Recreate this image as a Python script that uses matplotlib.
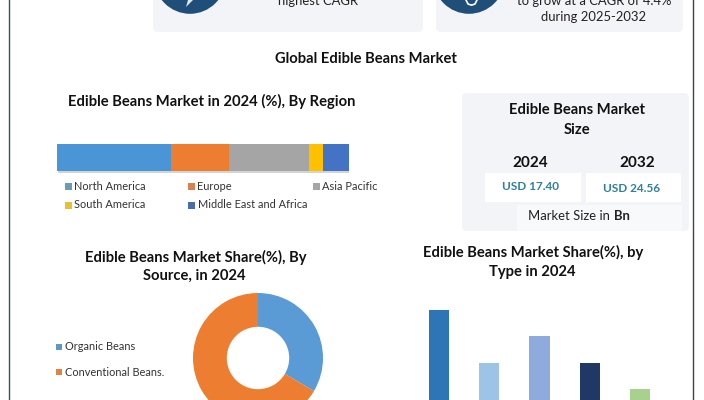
import numpy as np
import matplotlib
matplotlib.use('Agg')
import matplotlib.pyplot as plt
from matplotlib.patches import FancyBboxPatch, Circle, Rectangle, Polygon

plt.rcParams['font.family'] = ['Lato', 'DejaVu Sans']

region_names = ['North America', 'Europe', 'Asia Pacific', 'South America', 'Middle East and Africa']
region_values = [39, 20, 27.4, 4.8, 8.8]
region_colors = ['#4a95d6', '#ed7d31', '#a5a5a5', '#ffc000', '#4472c4']

source_names = ['Organic Beans', 'Conventional Beans.']
source_values = [33.5, 66.5]
source_colors = ['#5b9bd5', '#ed7d31']

type_values = [90, 37, 64, 37, 11]
type_colors = ['#2e75b6', '#9dc3e6', '#8faadc', '#1f3864', '#a9d18e']

size_years = ['2024', '2032']
size_values = ['USD 17.40', 'USD 24.56']

W, H = 704, 400
TITLE = 10.65
BODY = 9.4
fig = plt.figure(figsize=(W / 100, H / 100), dpi=100)

# pixel-space canvas for panels and text
bg = fig.add_axes([0, 0, 1, 1])
bg.set_xlim(0, W)
bg.set_ylim(H, 0)
bg.axis('off')


def card(x0, y0, x1, y1, color='#f3f4f7', z=1):
    bg.add_patch(FancyBboxPatch((x0 + 4, y0 + 4), x1 - x0 - 8, y1 - y0 - 8,
                                boxstyle='round,pad=4,rounding_size=5',
                                fc=color, ec='none', zorder=z))


def title(x, y, s):
    bg.text(x, y, s, ha='center', va='center', fontsize=TITLE, fontweight='bold',
            color='#111111', zorder=3)


# outer frame
bg.plot([9, 9], [0, H], color='#2f5270', lw=1)
bg.plot([693, 693], [0, H], color='#3a4750', lw=1)

# top highlight cards
card(153, -10, 423, 32)
card(436, -10, 683, 32)
bg.add_patch(Circle((190, -22), 35.8, fc='#1f4e79', ec='none', zorder=2))
bg.add_patch(Circle((469, -22), 35.8, fc='#1f4e79', ec='none', zorder=2))
bg.add_patch(Polygon([(188, 0), (193, 0), (186, 7)], fc='#dfe8ee', ec='none', zorder=3))
bg.plot([466, 468, 471], [0, 4, 5], color='white', lw=1.2, zorder=3)
bg.plot([477, 475, 472], [0, 4, 5], color='white', lw=1.2, zorder=3)
bg.text(318, 1, 'highest CAGR', ha='center', va='center', fontsize=BODY, color='#222222', zorder=3)
bg.text(594, 1, 'to grow at a CAGR of 4.4%', ha='center', va='center', fontsize=BODY, color='#222222', zorder=3)
bg.text(594, 17, 'during 2025-2032', ha='center', va='center', fontsize=BODY, color='#222222', zorder=3)

title(366, 59, 'Global Edible Beans Market')

# stacked region bar
title(212, 101, 'Edible Beans Market in 2024 (%), By Region')
bg.add_patch(Rectangle((58, 171), 291, 2, fc='#d4d4d4', ec='none', zorder=1))
bar_ax = fig.add_axes([57 / W, 1 - 171 / H, 292 / W, 27 / H])
left = 0
for val, col in zip(region_values, region_colors):
    bar_ax.barh(0, val, left=left, height=1, color=col)
    left += val
bar_ax.set_xlim(0, sum(region_values))
bar_ax.set_ylim(-0.5, 0.5)
bar_ax.axis('off')

legend_pos = [(65, 186), (188, 186), (313, 186), (65, 205), (188, 205)]
legend_cols = ['#6c9bb5', '#d9824e', '#a5a5a5', '#eac02f', '#4a6ea9']
for name, col, (lx, ly) in zip(region_names, legend_cols, legend_pos):
    bg.add_patch(Rectangle((lx, ly - 3), 6.5, 6.5, fc=col, ec='none'))
    bg.text(lx + 9.5, ly, name, ha='left', va='center', fontsize=7.9, color='#333333')

# market size panel
card(462, 93, 689, 231)
title(577, 110, 'Edible Beans Market')
title(577, 130, 'Size')
bg.add_patch(Rectangle((485, 173), 96, 29, fc='white', ec='none', zorder=2))
bg.add_patch(Rectangle((586, 173), 95, 29, fc='white', ec='none', zorder=2))
bg.add_patch(Rectangle((517, 205), 165, 26, fc='#f8f9fb', ec='none', zorder=2))
for yx, vx, vy, year, val in zip([530, 637], [530, 632], [187, 189], size_years, size_values):
    bg.text(yx, 163, year, ha='center', va='center', fontsize=11, fontweight='bold', color='#111111', zorder=3)
    bg.text(vx, vy, val, ha='center', va='center', fontsize=8.5, fontweight='bold', color='#2f7f9f', zorder=3)
bg.text(610, 216, 'Market Size in', ha='right', va='center', fontsize=BODY, color='#222222', zorder=3)
bg.text(614, 216, 'Bn', ha='left', va='center', fontsize=BODY, fontweight='bold', color='#222222', zorder=3)

# donut by source
title(196, 257, 'Edible Beans Market Share(%), By')
title(194, 276, 'Source, in 2024')
pie_ax = fig.add_axes([(258 - 65) / W, 1 - (358 + 65) / H, 130 / W, 130 / H])
pie_ax.pie(source_values, colors=source_colors, startangle=90, counterclock=False,
           radius=1, wedgeprops={'width': 0.52})
pie_ax.set_xlim(-1, 1)
pie_ax.set_ylim(-1, 1)
for name, col, ly in zip(source_names, ['#5b97c9', '#dd8344'], [347, 372]):
    bg.add_patch(Rectangle((56, ly - 3), 6, 6, fc=col, ec='none'))
    bg.text(65, ly, name, ha='left', va='center', fontsize=7.95, color='#333333')

# bars by type
title(533.5, 252, 'Edible Beans Market Share(%), by')
title(532, 272, 'Type in 2024')
type_ax = fig.add_axes([414 / W, 0, 251 / W, 90 / H])
type_ax.bar(np.arange(len(type_values)), type_values, width=0.4, color=type_colors)
type_ax.set_xlim(-0.5, 4.5)
type_ax.set_ylim(0, 90)
type_ax.axis('off')

fig.savefig('out.png', dpi=100)
